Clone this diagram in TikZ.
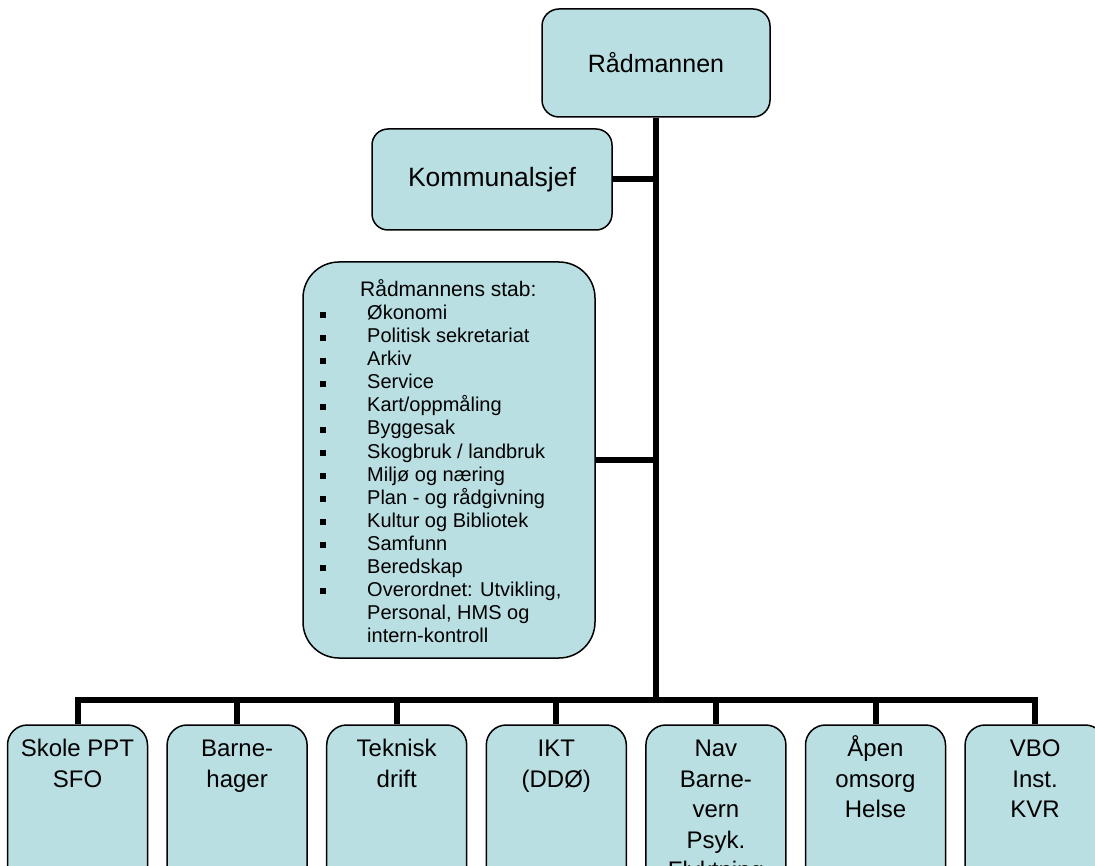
\documentclass[tikz,border=0pt]{standalone}
\usepackage{fontspec}
\setmainfont{Liberation Sans}
\definecolor{boxfill}{HTML}{B9DFE2}
\newcommand{\toplines}[1]{\setlength{\tabcolsep}{0pt}\begin{tabular}[t]{c}#1\end{tabular}}
\begin{document}
\begin{tikzpicture}[x=1pt,y=-1pt,
  box/.style={draw=black,line width=1.5pt,fill=boxfill,inner sep=0pt},
  conn/.style={line width=6pt},
  toptext/.style={font=\fontsize{25}{30}\selectfont},
  stabtxt/.style={font=\fontsize{20}{23}\selectfont,inner sep=0pt,anchor=base west},
  unitlbl/.style={font=\fontsize{24}{30.5}\selectfont,inner sep=0pt,anchor=base}]
\useasboundingbox (0,0) rectangle (1095,866);
\clip (0,0) rectangle (1095,866);
% top boxes
\node[box,rounded corners=17pt,minimum width=228pt,minimum height=108pt,toptext] (rad) at (656,63) {Rådmannen};
\node[box,rounded corners=16pt,minimum width=240pt,minimum height=101pt,font=\fontsize{26.5}{30}\selectfont] (kom) at (492,179.5) {Kommunalsjef};
\node[box,rounded corners=36pt,minimum width=292pt,minimum height=396pt] (stab) at (449,460) {};
% staff text
\node[stabtxt,font=\fontsize{21}{23}\selectfont] (sh) at (360,297) {Rådmannens stab:};
\foreach \t [count=\i] in {Økonomi,Politisk sekretariat,Arkiv,Service,Kart/oppmåling,Byggesak,Skogbruk / landbruk,Miljø og næring,Plan - og rådgivning,Kultur og Bibliotek,Samfunn,Beredskap,Overordnet: Utvikling{,}}{
  \node[stabtxt] (s\i) at (367,297+23*\i) {\t};
  \node[fill=black,inner sep=0pt,minimum size=5.5pt] (b\i) at (323,292+23*\i) {};
}
\node[stabtxt] (s14) at (367,297+23*14) {Personal, HMS og};
\node[stabtxt] (s15) at (367,297+23*15) {intern-kontroll};
% bottom boxes
\foreach \i/\t in {1/{Skole PPT\\SFO},2/{Barne-\\hager},3/{Teknisk\\drift},4/{IKT\\(DDØ)},5/{Nav\\Barne-\\vern\\Psyk.\\Flyktning},6/{Åpen\\omsorg\\Helse},7/{VBO\\Inst.\\KVR}}{
  \node[box,rounded corners=20pt,minimum width=140pt,minimum height=180pt] (u\i) at (77.5+159.6*\i-159.6,815) {};
  \node[unitlbl] (l\i) at (77.5+159.6*\i-159.6,756.5) {\toplines{\t}};
}
% connectors
\coordinate (busL) at (u1.north |- 0,700);
\coordinate (busR) at (u7.north |- 0,700);
\coordinate (trunkEnd) at (rad.south |- 0,700);
\draw[conn] (rad.south) -- (trunkEnd);
\draw[conn] (kom.east) -- (kom.east -| rad.south);
\draw[conn] (stab.east) -- (stab.east -| rad.south);
\draw[conn] (u1.north) -- (busL) -- (busR) -- (u7.north);
\foreach \i in {2,...,6}{
  \draw[conn] (u\i.north) -- (u\i.north |- busL);
}
\end{tikzpicture}
\end{document}
